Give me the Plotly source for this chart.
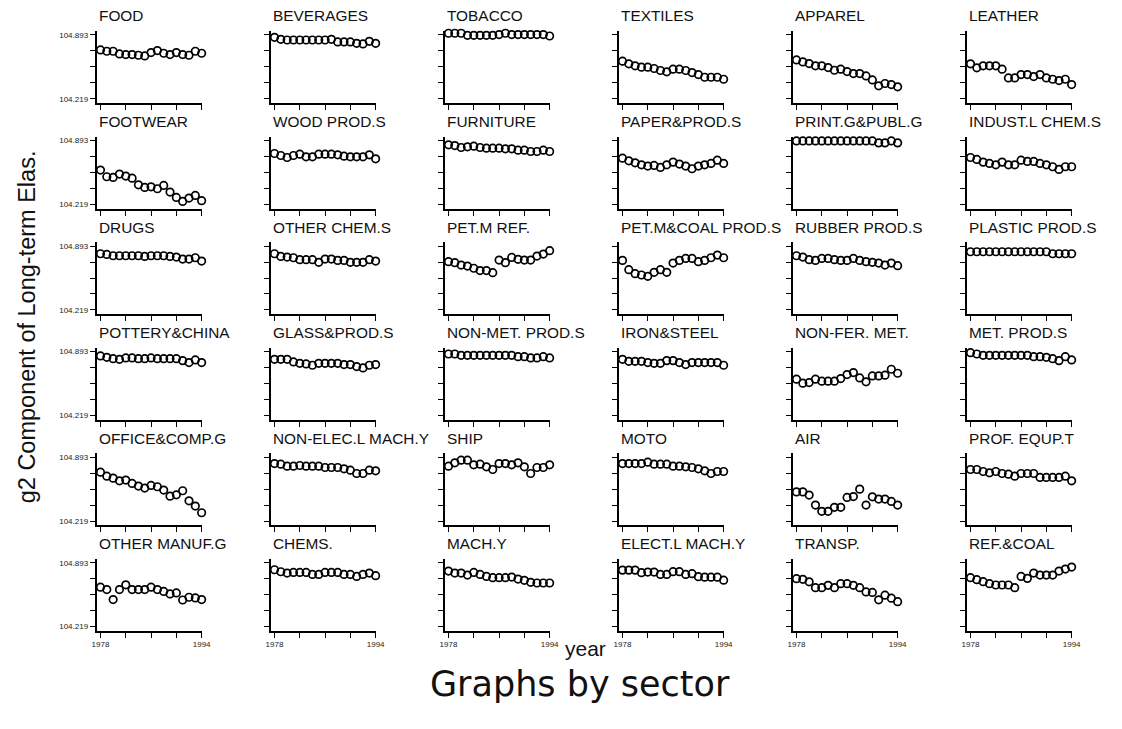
import plotly.graph_objects as go

W, H = 1122, 729

years = [1978, 1979, 1980, 1981, 1982, 1983, 1984, 1985, 1986,
         1987, 1988, 1989, 1990, 1991, 1992, 1993, 1994]

sectors = ["FOOD", "BEVERAGES", "TOBACCO", "TEXTILES", "APPAREL", "LEATHER",
           "FOOTWEAR", "WOOD PROD.S", "FURNITURE", "PAPER&PROD.S", "PRINT.G&PUBL.G", "INDUST.L CHEM.S",
           "DRUGS", "OTHER CHEM.S", "PET.M REF.", "PET.M&COAL PROD.S", "RUBBER PROD.S", "PLASTIC PROD.S",
           "POTTERY&CHINA", "GLASS&PROD.S", "NON-MET. PROD.S", "IRON&STEEL", "NON-FER. MET.", "MET. PROD.S",
           "OFFICE&COMP.G", "NON-ELEC.L MACH.Y", "SHIP", "MOTO", "AIR", "PROF. EQUP.T",
           "OTHER MANUF.G", "CHEMS.", "MACH.Y", "ELECT.L MACH.Y", "TRANSP.", "REF.&COAL"]

y_tick_values = [104.219, 104.3875, 104.556, 104.7245, 104.893]
y_tick_labels = ["104.219", "", "", "", "104.893"]
x_tick_values = [1978, 1982, 1986, 1990, 1994]
x_tick_labels = ["1978", "", "", "", "1994"]

food = [104.735, 104.721, 104.721, 104.693, 104.686, 104.686, 104.679, 104.672, 104.707,
        104.728, 104.700, 104.686, 104.707, 104.686, 104.679, 104.721, 104.700]
beverages = [104.868, 104.847, 104.840, 104.840, 104.840, 104.840, 104.840, 104.840, 104.840,
             104.847, 104.819, 104.819, 104.819, 104.805, 104.798, 104.826, 104.805]
tobacco = [104.911, 104.911, 104.911, 104.889, 104.889, 104.889, 104.889, 104.889, 104.897,
           104.911, 104.897, 104.897, 104.897, 104.897, 104.897, 104.897, 104.882]
textiles = [104.616, 104.588, 104.567, 104.553, 104.553, 104.539, 104.518, 104.504, 104.532,
            104.532, 104.518, 104.496, 104.475, 104.447, 104.447, 104.447, 104.426]
apparel = [104.630, 104.609, 104.591, 104.567, 104.567, 104.549, 104.521, 104.532, 104.507,
           104.486, 104.486, 104.461, 104.419, 104.356, 104.381, 104.370, 104.346]
leather = [104.588, 104.546, 104.567, 104.567, 104.567, 104.532, 104.440, 104.440, 104.475,
           104.475, 104.454, 104.475, 104.440, 104.426, 104.412, 104.426, 104.370]
footwear = [104.581, 104.511, 104.504, 104.539, 104.518, 104.496, 104.426, 104.398, 104.405,
            104.384, 104.419, 104.349, 104.293, 104.251, 104.286, 104.314, 104.258]
wood = [104.756, 104.735, 104.714, 104.735, 104.749, 104.721, 104.721, 104.749, 104.749,
        104.749, 104.742, 104.728, 104.721, 104.721, 104.721, 104.742, 104.700]
furniture = [104.847, 104.840, 104.819, 104.826, 104.833, 104.819, 104.812, 104.812, 104.812,
             104.805, 104.805, 104.791, 104.791, 104.777, 104.777, 104.791, 104.777]
paper = [104.707, 104.679, 104.658, 104.637, 104.623, 104.630, 104.609, 104.637, 104.665,
         104.644, 104.623, 104.595, 104.623, 104.637, 104.651, 104.686, 104.651]
printing = [104.889, 104.889, 104.889, 104.889, 104.889, 104.889, 104.889, 104.889, 104.889,
            104.889, 104.889, 104.889, 104.889, 104.868, 104.868, 104.889, 104.868]
indust_chem = [104.714, 104.693, 104.665, 104.651, 104.637, 104.665, 104.637, 104.637, 104.686,
               104.672, 104.672, 104.651, 104.637, 104.616, 104.588, 104.616, 104.616]
drugs = [104.812, 104.805, 104.791, 104.791, 104.791, 104.791, 104.791, 104.784, 104.791,
         104.791, 104.791, 104.784, 104.777, 104.756, 104.756, 104.770, 104.735]
other_chem = [104.812, 104.784, 104.777, 104.770, 104.749, 104.749, 104.749, 104.721, 104.756,
              104.756, 104.742, 104.742, 104.721, 104.721, 104.721, 104.749, 104.735]
pet_ref = [104.728, 104.718, 104.692, 104.682, 104.659, 104.634, 104.634, 104.612, 104.745,
           104.718, 104.773, 104.753, 104.745, 104.745, 104.787, 104.809, 104.844]
pet_coal = [104.742, 104.644, 104.602, 104.588, 104.574, 104.616, 104.644, 104.616, 104.714,
            104.742, 104.763, 104.763, 104.728, 104.742, 104.770, 104.798, 104.770]
rubber = [104.791, 104.777, 104.749, 104.742, 104.763, 104.763, 104.749, 104.742, 104.742,
          104.763, 104.742, 104.728, 104.721, 104.714, 104.693, 104.714, 104.686]
plastic = [104.833, 104.833, 104.833, 104.833, 104.833, 104.833, 104.833, 104.833, 104.833,
           104.833, 104.833, 104.833, 104.833, 104.812, 104.812, 104.812, 104.812]
pottery = [104.847, 104.833, 104.819, 104.812, 104.826, 104.826, 104.819, 104.819, 104.826,
           104.819, 104.819, 104.819, 104.819, 104.798, 104.777, 104.805, 104.777]
glass = [104.812, 104.812, 104.812, 104.784, 104.770, 104.763, 104.749, 104.770, 104.770,
         104.770, 104.770, 104.756, 104.756, 104.735, 104.721, 104.749, 104.756]
non_met = [104.868, 104.868, 104.854, 104.854, 104.854, 104.854, 104.854, 104.854, 104.854,
           104.854, 104.854, 104.840, 104.840, 104.826, 104.826, 104.840, 104.826]
iron = [104.812, 104.791, 104.791, 104.791, 104.777, 104.770, 104.770, 104.798, 104.798,
        104.777, 104.756, 104.777, 104.777, 104.777, 104.777, 104.777, 104.749]
non_fer = [104.602, 104.560, 104.567, 104.602, 104.581, 104.581, 104.581, 104.609, 104.651,
           104.672, 104.616, 104.574, 104.637, 104.637, 104.644, 104.707, 104.665]
met_prod = [104.882, 104.868, 104.854, 104.854, 104.854, 104.854, 104.854, 104.854, 104.854,
            104.854, 104.840, 104.840, 104.833, 104.819, 104.798, 104.840, 104.805]
office = [104.735, 104.693, 104.672, 104.644, 104.651, 104.616, 104.588, 104.567, 104.595,
          104.581, 104.546, 104.482, 104.496, 104.539, 104.433, 104.377, 104.307]
non_elec = [104.826, 104.819, 104.798, 104.798, 104.805, 104.798, 104.798, 104.798, 104.784,
            104.784, 104.784, 104.770, 104.756, 104.721, 104.721, 104.756, 104.749]
ship = [104.798, 104.833, 104.861, 104.861, 104.812, 104.819, 104.791, 104.763, 104.826,
        104.826, 104.812, 104.833, 104.791, 104.721, 104.784, 104.784, 104.812]
moto = [104.826, 104.826, 104.826, 104.826, 104.840, 104.819, 104.819, 104.819, 104.798,
        104.798, 104.791, 104.784, 104.770, 104.749, 104.721, 104.742, 104.742]
air = [104.527, 104.527, 104.493, 104.388, 104.322, 104.322, 104.364, 104.364, 104.468,
       104.478, 104.556, 104.388, 104.475, 104.451, 104.451, 104.426, 104.388]
prof_equip = [104.763, 104.763, 104.742, 104.728, 104.742, 104.721, 104.714, 104.693, 104.721,
              104.721, 104.721, 104.679, 104.679, 104.679, 104.679, 104.693, 104.644]
other_manuf = [104.635, 104.610, 104.504, 104.610, 104.660, 104.610, 104.610, 104.610, 104.635,
               104.610, 104.590, 104.564, 104.575, 104.500, 104.529, 104.522, 104.504]
chems = [104.819, 104.798, 104.784, 104.791, 104.791, 104.791, 104.770, 104.770, 104.791,
         104.791, 104.791, 104.770, 104.770, 104.749, 104.770, 104.784, 104.756]
mach = [104.805, 104.784, 104.784, 104.763, 104.791, 104.770, 104.749, 104.735, 104.735,
        104.735, 104.742, 104.721, 104.707, 104.686, 104.679, 104.679, 104.679]
elect_mach = [104.815, 104.815, 104.815, 104.788, 104.794, 104.794, 104.770, 104.770, 104.799,
              104.799, 104.770, 104.777, 104.746, 104.741, 104.741, 104.741, 104.709]
transp = [104.725, 104.718, 104.692, 104.630, 104.630, 104.655, 104.630, 104.672, 104.672,
          104.655, 104.630, 104.585, 104.580, 104.502, 104.551, 104.519, 104.482]
ref_coal = [104.735, 104.714, 104.693, 104.672, 104.658, 104.658, 104.658, 104.630, 104.749,
            104.728, 104.784, 104.763, 104.763, 104.763, 104.805, 104.826, 104.847]

series = [food, beverages, tobacco, textiles, apparel, leather,
          footwear, wood, furniture, paper, printing, indust_chem,
          drugs, other_chem, pet_ref, pet_coal, rubber, plastic,
          pottery, glass, non_met, iron, non_fer, met_prod,
          office, non_elec, ship, moto, air, prof_equip,
          other_manuf, chems, mach, elect_mach, transp, ref_coal]

FONT = "Liberation Sans, Arial, Helvetica, sans-serif"
WIDE_FONT = "DejaVu Sans, Liberation Sans, Arial, sans-serif"

fig = go.Figure()
layout = dict(
    width=W, height=H, margin=dict(l=0, r=0, t=0, b=0),
    paper_bgcolor="white", plot_bgcolor="white", showlegend=False,
    font=dict(family=FONT, color="black"),
)
annotations = []

ncols = 6
col_x0 = 92.7
col_step = 176.2
panel_w = 106.8
row_top0 = 31.0
row_step = 105.7
panel_h = 72.3

for k, (name, vals) in enumerate(zip(sectors, series)):
    r, c = divmod(k, ncols)
    x0 = col_x0 + col_step * c
    x1 = x0 + panel_w
    top = row_top0 + row_step * r
    bot = top + panel_h
    idx = "" if k == 0 else str(k + 1)
    fig.add_trace(go.Scatter(
        x=years, y=vals, mode="markers", cliponaxis=False,
        xaxis="x" + idx, yaxis="y" + idx,
        marker=dict(symbol="circle-open", size=7.5, color="black",
                    line=dict(width=1.7, color="black")),
        hoverinfo="x+y",
    ))
    layout["xaxis" + idx] = dict(
        domain=[x0 / W, x1 / W], anchor="y" + idx,
        range=[1977.375, 1994.06], showgrid=False, zeroline=False,
        showline=True, linecolor="black", linewidth=1.6,
        ticks="outside", ticklen=5, tickwidth=1.4, tickcolor="black",
        tickvals=x_tick_values,
        ticktext=x_tick_labels if r == 5 else [""] * 5,
        tickfont=dict(size=8, family=FONT, color="#222"), tickangle=0,
    )
    layout["yaxis" + idx] = dict(
        domain=[1 - bot / H, 1 - top / H], anchor="x" + idx,
        range=[104.1737, 104.9351], showgrid=False, zeroline=False,
        showline=True, linecolor="black", linewidth=1.6,
        ticks="outside", ticklen=5, tickwidth=1.4, tickcolor="black",
        tickvals=y_tick_values,
        ticktext=y_tick_labels if c == 0 else [""] * 5,
        tickfont=dict(size=8, family=FONT, color="#222"),
    )
    annotations.append(dict(
        text=name, x=x0 / W, y=1 - (16 + row_step * r) / H,
        xref="paper", yref="paper", xanchor="left", yanchor="middle",
        showarrow=False, font=dict(size=15.4, family=FONT, color="#111"),
    ))

annotations.append(dict(
    text="g2 Component of Long-term Elas.", x=22 / W, y=1 - 327 / H,
    xref="paper", yref="paper", xanchor="center", yanchor="middle",
    textangle=-90, showarrow=False, font=dict(size=23.5, family=FONT, color="#111"),
))
annotations.append(dict(
    text="year", x=588 / W, y=1 - 649 / H,
    xref="paper", yref="paper", xanchor="center", yanchor="middle",
    showarrow=False, font=dict(size=21, family=FONT, color="#111"),
))
annotations.append(dict(
    text="Graphs by sector", x=582 / W, y=1 - 685 / H,
    xref="paper", yref="paper", xanchor="center", yanchor="middle",
    showarrow=False, font=dict(size=35, family=WIDE_FONT, color="#111"),
))
layout["annotations"] = annotations
fig.update_layout(**layout)
fig.write_html("out.html")
